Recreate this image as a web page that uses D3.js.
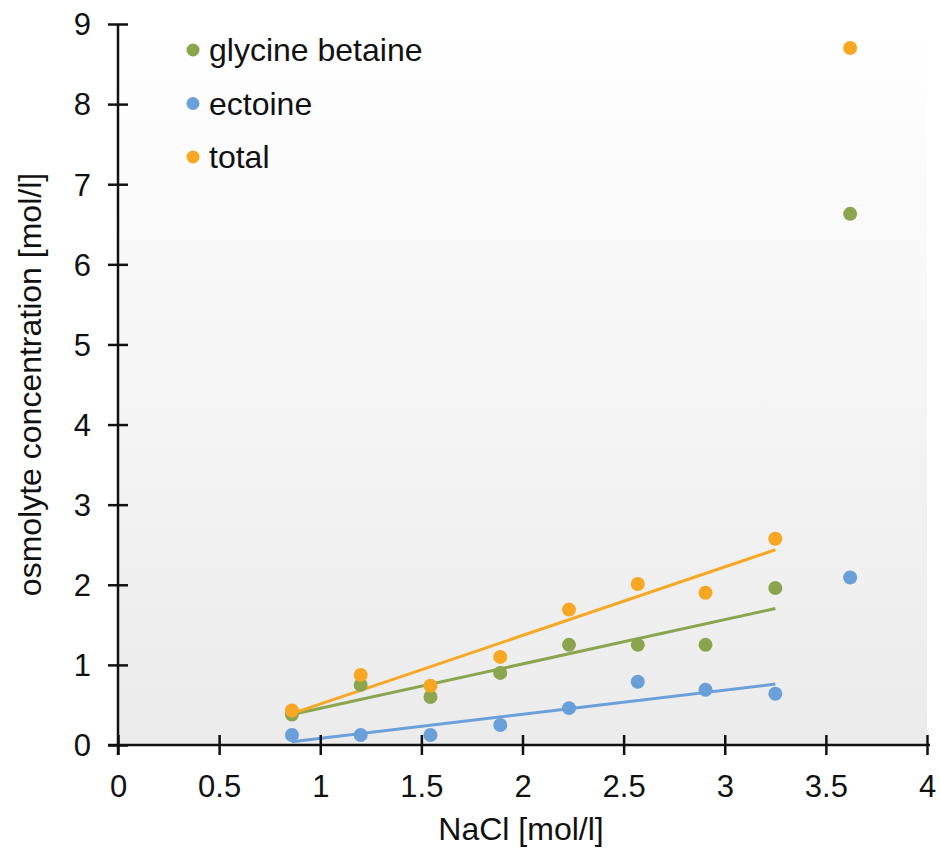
<!DOCTYPE html>
<html>
  <head>
    <script src="https://d3js.org/d3.v7.min.js"></script>
    <style>
      body { margin: 0; background: #fff; }
      text { font-family: "Liberation Sans", Arial, sans-serif; fill: #111; }
      .axis path, .axis line { stroke: #111; stroke-width: 2.5px; }
      .axis text { font-size: 31px; }
      .title { font-size: 32px; }
      .legend text { font-size: 32px; }
    </style>
  </head>
  <body>
    <svg width="940" height="848"></svg>
    <script>
      // NaCl [mol/l] of each culture
      const nacl = [0.86, 1.2, 1.545, 1.89, 2.23, 2.57, 2.905, 3.25, 3.62];
      const glycineBetaine = [0.38, 0.75, 0.6, 0.9, 1.25, 1.25, 1.25, 1.96, 6.63];
      const ectoine = [0.125, 0.125, 0.125, 0.25, 0.46, 0.79, 0.69, 0.64, 2.09];
      const total = [0.43, 0.875, 0.74, 1.1, 1.69, 2.01, 1.9, 2.575, 8.7];
      const seriesNames = ["glycine betaine", "ectoine", "total"];
      const seriesColors = ["#8aa54e", "#6aa0da", "#f7a722"];
      const xTicks = [0, 0.5, 1, 1.5, 2, 2.5, 3, 3.5, 4];
      const yTicks = [0, 1, 2, 3, 4, 5, 6, 7, 8, 9];
      // trend lines are fitted on the first 8 points only
      const fitCount = 8;

      const series = [glycineBetaine, ectoine, total].map((vals, i) => ({
        name: seriesNames[i],
        color: seriesColors[i],
        points: vals.map((v, j) => ({x: nacl[j], y: v}))
      }));

      const svg = d3.select("svg");
      const plotLeft = 118, plotRight = 927, plotTop = 24, plotBottom = 745;

      const x = d3.scaleLinear().domain([0, 4]).range([plotLeft, plotRight]);
      const y = d3.scaleLinear().domain([0, 9]).range([plotBottom, plotTop]);

      const defs = svg.append("defs");
      const grad = defs.append("linearGradient")
        .attr("id", "bg").attr("x1", 0).attr("y1", 0).attr("x2", 0).attr("y2", 1);
      grad.append("stop").attr("offset", "0%").attr("stop-color", "#ffffff");
      grad.append("stop").attr("offset", "100%").attr("stop-color", "#ebebeb");

      svg.append("rect")
        .attr("x", plotLeft).attr("y", plotTop)
        .attr("width", plotRight - plotLeft).attr("height", plotBottom - plotTop)
        .attr("fill", "url(#bg)");

      // trend lines
      function fit(pts) {
        const mx = d3.mean(pts, d => d.x), my = d3.mean(pts, d => d.y);
        const sxy = d3.sum(pts, d => (d.x - mx) * (d.y - my));
        const sxx = d3.sum(pts, d => (d.x - mx) * (d.x - mx));
        const b = sxy / sxx, a = my - b * mx;
        const x0 = d3.min(pts, d => d.x), x1 = d3.max(pts, d => d.x);
        return [{x: x0, y: a + b * x0}, {x: x1, y: a + b * x1}];
      }
      const line = d3.line().x(d => x(d.x)).y(d => y(d.y));
      svg.append("g").selectAll("path")
        .data(series)
        .join("path")
          .attr("d", s => line(fit(s.points.slice(0, fitCount))))
          .attr("fill", "none")
          .attr("stroke", s => s.color)
          .attr("stroke-width", 3);

      // points
      svg.append("g").selectAll("g")
        .data(series)
        .join("g")
          .attr("fill", s => s.color)
        .selectAll("circle")
        .data(s => s.points)
        .join("circle")
          .attr("cx", d => x(d.x))
          .attr("cy", d => y(d.y))
          .attr("r", 7);

      // axes, ticks cross the axis line
      const xAxis = svg.append("g")
        .attr("class", "axis")
        .attr("transform", `translate(0,${plotBottom})`)
        .call(d3.axisBottom(x).tickValues(xTicks).tickFormat(d3.format("")).tickSize(10).tickPadding(20));
      xAxis.select(".domain").attr("d", `M${plotLeft - 10},0H${plotRight + 3}`);
      xAxis.selectAll(".tick line").attr("y1", -10);

      const yAxis = svg.append("g")
        .attr("class", "axis")
        .attr("transform", `translate(${plotLeft},0)`)
        .call(d3.axisLeft(y).tickValues(yTicks).tickSize(10).tickPadding(17));
      yAxis.select(".domain").attr("d", `M0,${plotTop}V${plotBottom + 10}`);
      yAxis.selectAll(".tick line").attr("x1", 10);
      yAxis.selectAll(".tick text").attr("dy", "0.35em");

      svg.append("text")
        .attr("class", "title")
        .attr("x", 521)
        .attr("y", 840)
        .attr("text-anchor", "middle")
        .text("NaCl [mol/l]");

      svg.append("text")
        .attr("class", "title")
        .attr("transform", `translate(41,${(plotTop + plotBottom) / 2}) rotate(-90)`)
        .attr("text-anchor", "middle")
        .text("osmolyte concentration [mol/l]");

      // legend
      const legend = svg.append("g")
        .attr("class", "legend")
        .attr("transform", "translate(193,50)");
      const item = legend.selectAll("g")
        .data(series)
        .join("g")
          .attr("transform", (d, i) => `translate(0,${i * 53.5})`);
      item.append("circle").attr("r", 6.5).attr("fill", d => d.color);
      item.append("text").attr("x", 16).attr("dy", "0.35em").text(d => d.name);
    </script>
  </body>
</html>
